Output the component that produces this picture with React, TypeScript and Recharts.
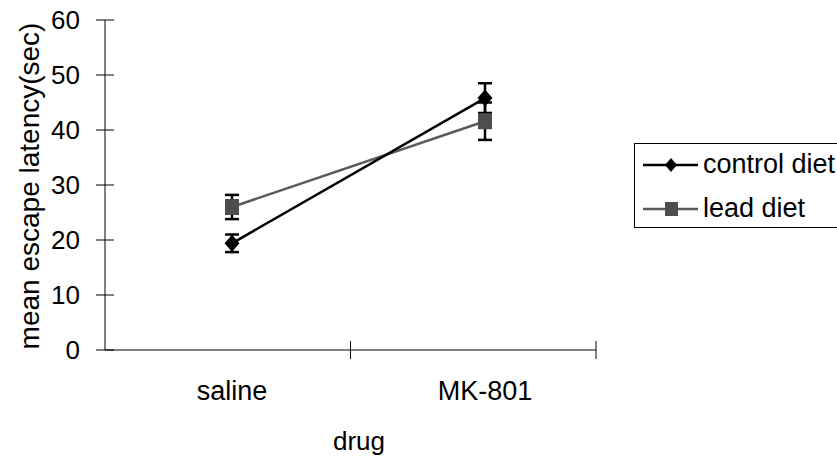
import React from 'react';
import {
  LineChart,
  Line,
  XAxis,
  YAxis,
  ErrorBar,
  Legend,
  ReferenceLine,
} from 'recharts';

const drugs = ['saline', 'MK-801'];
const controlMeans = [19.4, 45.8];
const controlErr = [1.6, 2.7];
const leadMeans = [26.0, 41.6];
const leadErr = [2.2, 3.4];
const yTicks = [0, 10, 20, 30, 40, 50, 60];
// category boundaries on a 0..1 frame axis
const boundaryTicks = [0.5, 1];

const data = drugs.map((drug, i) => ({
  drug,
  control: controlMeans[i],
  controlErr: controlErr[i],
  lead: leadMeans[i],
  leadErr: leadErr[i],
}));

const FONT = '"Liberation Sans", Arial, sans-serif';
const LEAD_LINE = '#5a5a5a';
const LEAD_MARK = '#4d4d4d';

const Diamond = (props: any) => {
  const { cx, cy, index } = props;
  if (cx == null || cy == null) return <g key={index} />;
  return (
    <polygon
      key={'d' + index}
      points={`${cx},${cy - 8.5} ${cx + 7.5},${cy} ${cx},${cy + 8.5} ${cx - 7.5},${cy}`}
      fill="#000"
    />
  );
};

const Square = (props: any) => {
  const { cx, cy, index } = props;
  if (cx == null || cy == null) return <g key={index} />;
  return <rect key={'s' + index} x={cx - 7} y={cy - 8} width={14} height={16} fill={LEAD_MARK} />;
};

const YTick = (props: any) => {
  const { x, y, payload } = props;
  return (
    <g>
      <line x1={x - 9} x2={x + 9} y1={y} y2={y} stroke="#000" />
      <text x={x - 25} y={y} textAnchor="end" dominantBaseline="central" fontSize={26} fontFamily={FONT} fill="#000">
        {payload.value}
      </text>
    </g>
  );
};

const XTick = (props: any) => {
  const { x, y, payload } = props;
  return (
    <text x={x} y={y + 41} textAnchor="middle" dominantBaseline="central" fontSize={27} fontFamily={FONT} fill="#000">
      {payload.value}
    </text>
  );
};

const LegendBox = () => (
  <div
    style={{
      border: '1px solid #000',
      width: 210,
      height: 85,
      boxSizing: 'border-box',
      fontFamily: FONT,
      fontSize: 27,
      background: '#fff',
      whiteSpace: 'nowrap',
    }}
  >
    <div style={{ display: 'flex', alignItems: 'center', height: 21, marginTop: 10 }}>
      <svg width={68} height={20}>
        <line x1={8} x2={63} y1={10} y2={10} stroke="#000" strokeWidth={2.5} />
        <polygon points="36,3 42,10 36,17 30,10" fill="#000" />
      </svg>
      <span>control diet</span>
    </div>
    <div style={{ display: 'flex', alignItems: 'center', height: 21, marginTop: 23 }}>
      <svg width={68} height={20}>
        <line x1={8} x2={63} y1={10} y2={10} stroke={LEAD_LINE} strokeWidth={2.5} />
        <rect x={30} y={3} width={13} height={14} fill={LEAD_MARK} />
      </svg>
      <span>lead diet</span>
    </div>
  </div>
);

export default function App() {
  return (
    <div style={{ position: 'absolute', left: 0, top: 0, background: '#fff' }}>
      <LineChart width={837} height={456} data={data} margin={{ top: 20, right: 241, bottom: 0, left: 0 }}>
        <XAxis
          dataKey="drug"
          type="category"
          scale="point"
          padding={{ left: 127, right: 111 }}
          height={106}
          axisLine={{ stroke: '#000' }}
          tickLine={false}
          tickSize={0}
          tickMargin={0}
          tick={<XTick />}
          label={{
            content: () => (
              <text x={359} y={441} textAnchor="middle" dominantBaseline="central" fontSize={26} fontFamily={FONT} fill="#000">
                drug
              </text>
            ),
          }}
        />
        <XAxis xAxisId="frame" type="number" domain={[0, 1]} allowDataOverflow hide />
        <YAxis
          type="number"
          domain={[0, 60]}
          ticks={yTicks}
          width={105}
          axisLine={{ stroke: '#000' }}
          tickLine={false}
          tickSize={0}
          tickMargin={0}
          tick={<YTick />}
          interval={0}
          label={{
            content: () => (
              <text
                transform="translate(29,186) rotate(-90)"
                textAnchor="middle"
                dominantBaseline="central"
                fontSize={28}
                fontFamily={FONT}
                fill="#000"
              >
                mean escape latency(sec)
              </text>
            ),
          }}
        />
        {boundaryTicks.map((b) => (
          <ReferenceLine
            key={b}
            xAxisId="frame"
            segment={[{ x: b, y: -1.64 }, { x: b, y: 1.64 }]}
            stroke="#000"
            ifOverflow="visible"
          />
        ))}
        <Line
          dataKey="lead"
          stroke={LEAD_LINE}
          strokeWidth={2.5}
          dot={Square}
          activeDot={false}
          isAnimationActive={false}
        >
          <ErrorBar dataKey="leadErr" width={7} strokeWidth={2.5} stroke="#000" direction="y" />
        </Line>
        <Line
          dataKey="control"
          stroke="#000"
          strokeWidth={2.5}
          dot={Diamond}
          activeDot={false}
          isAnimationActive={false}
        >
          <ErrorBar dataKey="controlErr" width={7} strokeWidth={2.5} stroke="#000" direction="y" />
        </Line>
        <Legend
          layout="vertical"
          align="center"
          verticalAlign="middle"
          content={<LegendBox />}
          wrapperStyle={{ position: 'absolute', left: 634, top: 143, width: 210, height: 85 }}
        />
      </LineChart>
    </div>
  );
}
